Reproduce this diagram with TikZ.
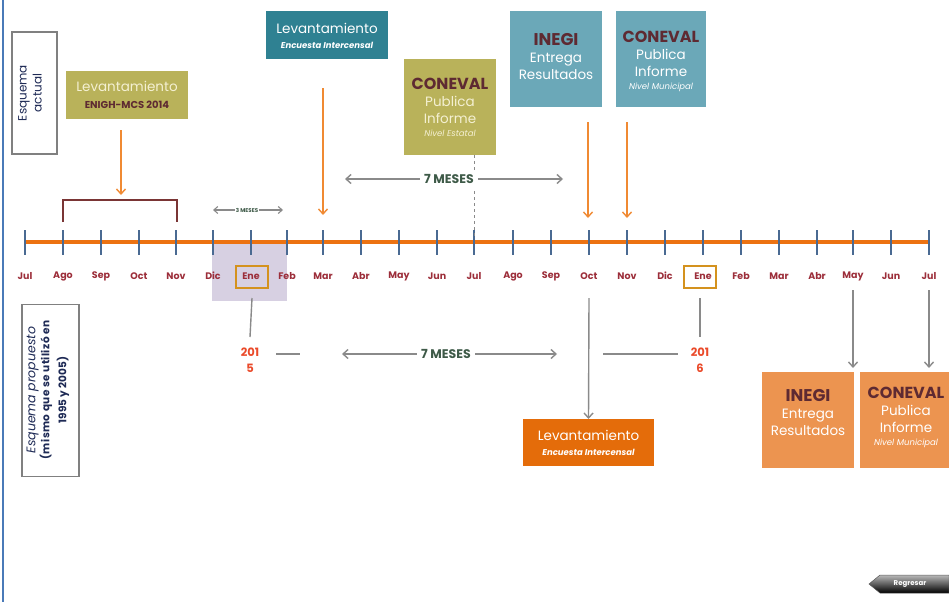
\documentclass[tikz,border=0pt]{standalone}
\usepackage{fontspec}
\setmainfont{Poppins}
\usetikzlibrary{arrows.meta}
\definecolor{olivebox}{HTML}{B9B25A}
\definecolor{tealdark}{HTML}{2F8192}
\definecolor{teallight}{HTML}{6BA8B8}
\definecolor{orgdark}{HTML}{E46C0A}
\definecolor{orglight}{HTML}{EC9450}
\definecolor{maroontxt}{HTML}{5E2A32}
\definecolor{creamtxt}{HTML}{F4F0D2}
\definecolor{monthred}{HTML}{9C2E3A}
\definecolor{tickblue}{HTML}{4A6A92}
\definecolor{lineorange}{HTML}{EC7211}
\definecolor{arroworange}{HTML}{F08A33}
\definecolor{arrowgray}{HTML}{8A8A8A}
\definecolor{shadepurple}{HTML}{D7D0E2}
\definecolor{enegold}{HTML}{D4921E}
\definecolor{yearred}{HTML}{EA4A2A}
\definecolor{mesesgreen}{HTML}{3E5A48}
\definecolor{bracketred}{HTML}{7A3535}
\definecolor{leftblue}{HTML}{4A7AB8}
\definecolor{navytxt}{HTML}{1E2A55}
\newcommand\hdfont{\fontsize{16}{18}\selectfont\bfseries}
\newcommand\inegifont{\fontsize{17}{18}\selectfont\bfseries}
\newcommand\subfont{\fontsize{8.5}{10}\selectfont\bfseries\itshape}
\newcommand\nivfont{\fontsize{8.5}{10}\selectfont\itshape}
\begin{document}
\begin{tikzpicture}[x=1pt,y=-1pt,
 box/.style={inner sep=0pt, outer sep=0pt},
 boxtext/.style={align=center, inner sep=0pt},
 oarrow/.style={draw=arroworange, line width=1.4pt, -{Straight Barb[length=5pt,width=9pt]}},
 garrow/.style={draw=arrowgray, line width=1.4pt, -{Straight Barb[length=5pt,width=9pt]}},
 gdouble/.style={draw=arrowgray, line width=1.4pt, {Straight Barb[length=5pt,width=9pt]}-{Straight Barb[length=5pt,width=9pt]}},
 gline/.style={draw=arrowgray, line width=1.4pt},
 month/.style={font=\fontsize{9.5}{11}\selectfont\bfseries, text=monthred, inner sep=1pt},
 framebox/.style={draw=gray, line width=1.5pt, fill=white, inner sep=0pt},
 frametext/.style={rotate=90, align=center, inner sep=0pt, text=navytxt},
 enebox/.style={draw=enegold, line width=1.3pt, minimum width=32pt, minimum height=22pt, inner sep=0pt},
 yeartxt/.style={font=\fontsize{11.5}{16}\selectfont\bfseries, text=yearred, align=center, inner sep=0pt},
 meses/.style={font=\fontsize{12.5}{14}\selectfont\bfseries, text=mesesgreen, fill=white, inner sep=4pt},
 bigtxt/.style={font=\fontsize{13.5}{17}\selectfont},
]
\useasboundingbox (0,0) rectangle (949,602);
% left border
\draw[leftblue, line width=2pt] (3,0) -- (3,602);

% shaded Ene
\fill[shadepurple] (212,244) rectangle (287,301);

% timeline
\coordinate (tlstart) at (25,242);
\coordinate (tlend) at (929,242);
\draw[lineorange, line width=3.5pt] (tlstart) -- (tlend);
\foreach \m/\x [count=\i from 0] in {Jul/25,Ago/63,Sep/101,Oct/139,Nov/176,Dic/213,Ene/251,Feb/287,Mar/323,Abr/361,May/399,Jun/437,Jul/474,Ago/513,Sep/551,Oct/589,Nov/627,Dic/665,Ene/703,Feb/741,Mar/779,Abr/817,May/853,Jun/891,Jul/929}{
  \coordinate (t\i) at (\x,242);
  \draw[tickblue, line width=1.6pt] (\x,230) -- (\x,255);
  \node[month] (m\i) at (\x,276) {\m};
}
\node[enebox] (ene1) at (252,277) {};
\node[enebox] (ene2) at (700,277) {};

% frames
\node[framebox, minimum width=45pt, minimum height=122pt] (actual) at (34.5,93) {};
\node[frametext, font=\fontsize{12}{15}\selectfont] (actualt) at (30,93) {Esquema\\actual};
\node[framebox, minimum width=57pt, minimum height=172pt] (propuesto) at (50.5,390.5) {};
\node[frametext, font=\fontsize{10.5}{13}\selectfont\bfseries] (propuestot) at (48,390)
  {{\fontsize{12.5}{13}\selectfont\mdseries\itshape Esquema propuesto}\\[1pt]
   {\addfontfeature{LetterSpace=4}(mismo que se utilizó en}\\[4pt]
   1995 y 2005)};

% top boxes
\node[box, fill=olivebox, minimum width=122pt, minimum height=48pt] (lev1) at (127,95) {};
\node[boxtext, text=creamtxt, bigtxt] at (127,95)
  {Levantamiento\\{\fontsize{10}{12}\selectfont\bfseries\color{maroontxt}ENIGH-MCS 2014}};

\node[box, fill=tealdark, minimum width=122pt, minimum height=48pt] (lev2) at (327,35) {};
\node[boxtext, text=white, bigtxt] at (327,36)
  {Levantamiento\\[-2pt]{\subfont Encuesta Intercensal}};

\node[box, fill=olivebox, minimum width=92pt, minimum height=96pt] (conE) at (450,107) {};
\node[boxtext, text=creamtxt, bigtxt] at (450,107)
  {{\hdfont\color{maroontxt}CONEVAL}\\Publica\\Informe\\[-4pt]{\nivfont Nivel Estatal}};

\node[box, fill=teallight, minimum width=92pt, minimum height=96pt] (inegi1) at (556,59) {};
\node[boxtext, text=white, bigtxt] at (556,57)
  {{\inegifont\color{maroontxt}INEGI}\\Entrega\\Resultados};

\node[box, fill=teallight, minimum width=90pt, minimum height=96pt] (conM1) at (661,59) {};
\node[boxtext, text=white, bigtxt] at (661,61)
  {{\hdfont\color{maroontxt}CONEVAL}\\Publica\\Informe\\[-4pt]{\nivfont Nivel Municipal}};

% bracket
\coordinate (brL) at (63,222);
\coordinate (brR) at (177,222);
\draw[bracketred, line width=1.5pt] (brL) -- (63,200) -- (177,200) -- (brR);

% top arrows
\coordinate (a1s) at (121,130);
\coordinate (a1) at (121,195);
\draw[oarrow] (a1s) -- (a1);
\draw[oarrow] (t8 |- 0,88) -- (t8 |- 0,215);
\draw[oarrow] (588,122) -- (588,218);
\draw[oarrow] (t16 |- 0,122) -- (t16 |- 0,218);
\draw[arrowgray, dashed, line width=1pt] (conE.south -| t12) -- (474,236);

% 7 meses top
\coordinate (sevL) at (345,179);
\coordinate (sevR) at (563,179);
\draw[gdouble] (sevL) -- (sevR);
\node[meses] at (449,179) {7 MESES};

% 3 meses
\coordinate (thrL) at (213,210);
\coordinate (thrR) at (283,210);
\draw[draw=arrowgray, line width=1.1pt, {Straight Barb[length=4pt,width=7pt]}-{Straight Barb[length=4pt,width=7pt]}] (thrL) -- (thrR);
\node[font=\fontsize{5.5}{6}\selectfont\bfseries, text=mesesgreen, fill=white, inner sep=0.5pt] at (247,210) {3 MESES};

% years
\node[yeartxt] (y2015) at (250,360) {201\\5};
\node[yeartxt] (y2016) at (700,360) {201\\6};
\draw[gline] (ene1.south |- 0,298) -- (250,337);
\draw[gline] (ene2.south |- 0,298) -- (700,337);

% bottom 7 meses
\coordinate (bl1) at (276,354);
\coordinate (bl2) at (300,354);
\draw[gline] (bl1) -- (bl2);
\coordinate (bsevL) at (342,354);
\coordinate (bsevR) at (557,354);
\draw[gdouble] (bsevL) -- (bsevR);
\node[meses] at (446,354) {7 MESES};
\coordinate (br1) at (603,354);
\coordinate (br2) at (678,354);
\draw[gline] (br1) -- (br2);

% bottom boxes
\node[box, fill=orgdark, minimum width=131pt, minimum height=47pt] (lev3) at (588.5,442.5) {};
\node[boxtext, text=white, bigtxt] at (588.5,443)
  {Levantamiento\\[-2pt]{\subfont Encuesta Intercensal}};
\draw[garrow] (589,298) -- (lev3.north);

\node[box, fill=orglight, minimum width=92pt, minimum height=96pt] (inegi2) at (808,420) {};
\node[boxtext, text=white, bigtxt] at (808,413)
  {{\inegifont\color{maroontxt}INEGI}\\Entrega\\Resultados};

\node[box, fill=orglight, minimum width=92pt, minimum height=96pt] (conM2) at (906,420) {};
\node[boxtext, text=white, bigtxt] at (906,417)
  {{\hdfont\color{maroontxt}CONEVAL}\\Publica\\Informe\\[-4pt]{\nivfont Nivel Municipal}};

\draw[garrow] (t22 |- 0,290) -- (t22 |- 0,368);
\draw[garrow] (t24 |- 0,290) -- (t24 |- 0,368);

% regresar
\path[top color=gray!55, bottom color=black, draw=gray!70!black, line width=0.5pt]
  (869,584) -- (880,575) -- (949,575) -- (949,593) -- (880,593) -- cycle;
\node[font=\fontsize{7}{8}\selectfont\bfseries, text=white, inner sep=0pt] (regresar) at (910,584) {Regresar};
\end{tikzpicture}
\end{document}
